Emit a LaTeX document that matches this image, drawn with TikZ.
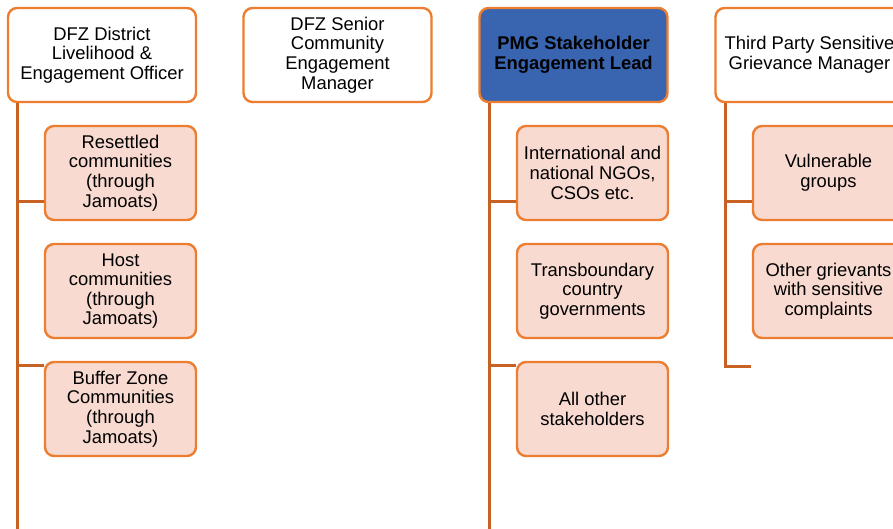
\documentclass[tikz,border=0pt]{standalone}
\usepackage{fontspec}
\setmainfont{Liberation Sans}
\definecolor{borderc}{RGB}{237,125,49}
\definecolor{connc}{RGB}{200,98,36}
\definecolor{childfill}{RGB}{248,218,208}
\definecolor{leadblue}{RGB}{56,100,176}
\begin{document}
\begin{tikzpicture}[x=1pt,y=-1pt,
  box/.style={draw=borderc, line width=2.4pt, rounded corners=9pt, fill=white,
    minimum width=188pt, minimum height=94pt, align=center, inner sep=0pt,
    font=\fontsize{18.4}{19.6}\selectfont},
  child/.style={box, fill=childfill, minimum width=151pt},
  conn/.style={draw=connc, line width=3pt}]
\useasboundingbox (0,0) rectangle (893,528);
\clip (0,0) rectangle (893,528);

% top row
\node[box] (t1) at (102,55) {DFZ District\\Livelihood \&\\Engagement Officer};
\node[box] (t2) at (337.5,55) {DFZ Senior\\Community\\Engagement\\Manager};
\node[box, fill=leadblue, font=\fontsize{18.4}{19.6}\selectfont\bfseries] (t3) at (573.5,55) {PMG Stakeholder\\Engagement Lead};
\node[box] (t4) at (809.5,55) {Third Party Sensitive\\Grievance Manager};

% column 1
\node[child] (c11) at (120.5,173) {Resettled\\communities\\(through\\Jamoats)};
\node[child] (c12) at (120.5,291) {Host\\communities\\(through\\Jamoats)};
\node[child] (c13) at (120.5,409) {Buffer Zone\\Communities\\(through\\Jamoats)};

% column 3
\node[child] (c31) at (592.5,173) {International and\\national NGOs,\\CSOs etc.};
\node[child] (c32) at (592.5,291) {Transboundary\\country\\governments};
\node[child] (c33) at (592.5,409) {All other\\stakeholders};

% column 4
\node[child] (c41) at (828.5,173) {Vulnerable\\groups};
\node[child] (c42) at (828.5,291) {Other grievants\\with sensitive\\complaints};

% connectors column 1
\coordinate (b1) at (17,532);
\draw[conn] (t1.south west -| b1) -- (b1);
\coordinate (j11) at ([yshift=-28pt]c11.west);
\draw[conn] (j11 -| b1) -- (j11);
\coordinate (j13) at ([yshift=44pt]c13.west);
\draw[conn] (j13 -| b1) -- (j13);

% connectors column 3
\coordinate (b3) at (489,532);
\draw[conn] (t3.south west -| b3) -- (b3);
\coordinate (j31) at ([yshift=-28pt]c31.west);
\draw[conn] (j31 -| b3) -- (j31);
\coordinate (j33) at ([yshift=44pt]c33.west);
\draw[conn] (j33 -| b3) -- (j33);

% connectors column 4
\coordinate (b4) at (725,366);
\coordinate (e4) at (751,366);
\draw[conn] (t4.south west -| b4) -- (b4) -- (e4);
\coordinate (j41) at ([yshift=-28pt]c41.west);
\draw[conn] (j41 -| b4) -- (j41);
\end{tikzpicture}
\end{document}
